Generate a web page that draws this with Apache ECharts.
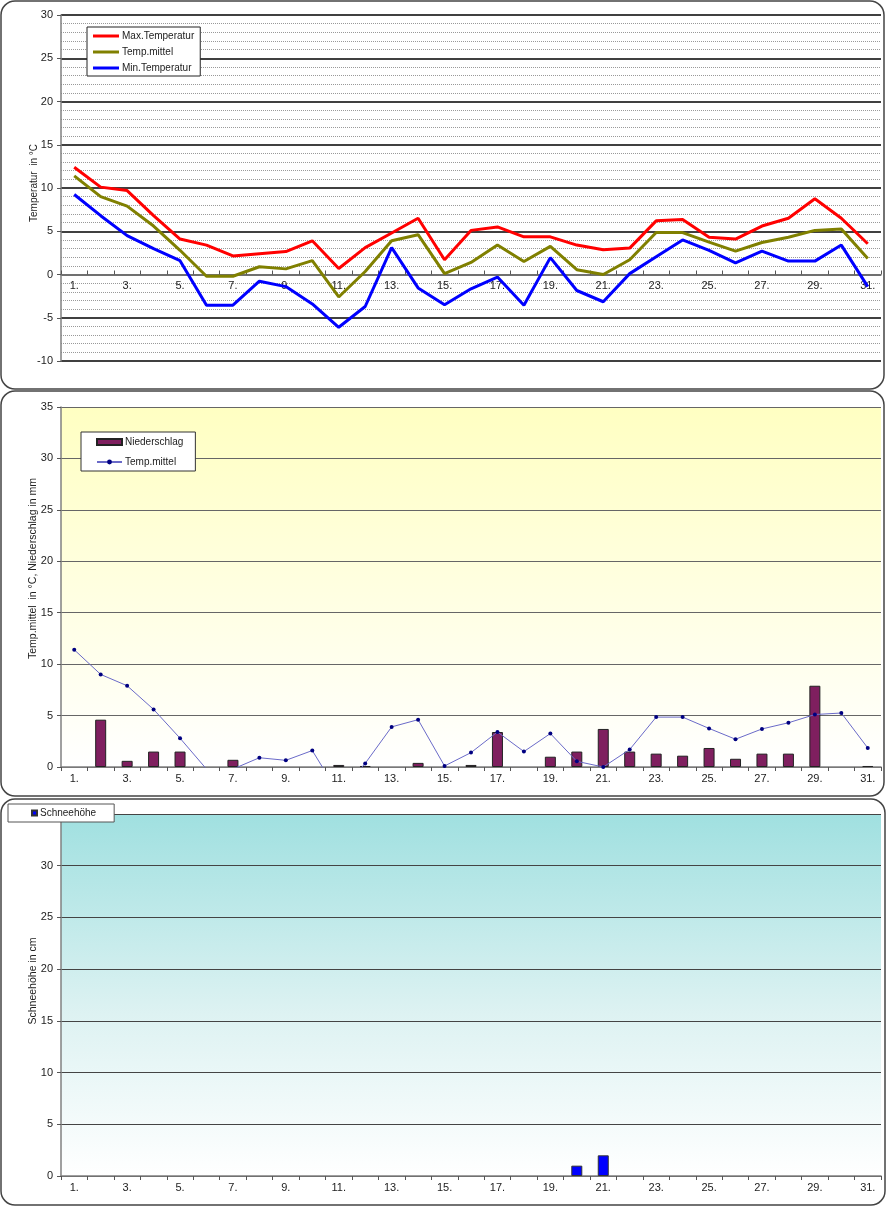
<!DOCTYPE html>
<html><head><meta charset="utf-8">
<script src="https://cdn.jsdelivr.net/npm/echarts@6/dist/echarts.min.js"></script>
<style>html,body{margin:0;padding:0;background:#fff}#c{width:887px;height:1207px}</style>
</head><body><div id="c"></div>
<script>
const days = ['1.','2.','3.','4.','5.','6.','7.','8.','9.','10.','11.','12.','13.','14.','15.','16.','17.','18.','19.','20.','21.','22.','23.','24.','25.','26.','27.','28.','29.','30.','31.'];
const tempMax = [12.4, 10.1, 9.7, 6.8, 4.1, 3.4, 2.15, 2.4, 2.65, 3.9, 0.7, 3.1, 4.8, 6.5, 1.7, 5.1, 5.5, 4.35, 4.35, 3.4, 2.85, 3.05, 6.2, 6.35, 4.3, 4.1, 5.6, 6.5, 8.75, 6.5, 3.55];
const tempMittel = [11.4, 9.0, 7.9, 5.6, 2.8, -0.2, -0.2, 0.9, 0.65, 1.6, -2.6, 0.35, 3.9, 4.6, 0.1, 1.4, 3.4, 1.5, 3.25, 0.55, 0.0, 1.7, 4.85, 4.85, 3.75, 2.7, 3.7, 4.3, 5.1, 5.25, 1.85];
const tempMin = [9.25, 6.8, 4.5, 3.0, 1.6, -3.55, -3.55, -0.77, -1.4, -3.4, -6.1, -3.7, 3.1, -1.55, -3.5, -1.65, -0.3, -3.55, 1.95, -1.85, -3.15, 0.1, 2.05, 4.0, 2.8, 1.35, 2.7, 1.55, 1.55, 3.4, -1.4];
// null = no precipitation / no snow on that day
const niederschlag = [null, 4.6, 0.6, 1.5, 1.5, null, 0.7, null, null, null, 0.2, 0.1, null, 0.4, null, 0.2, 3.4, null, 1.0, 1.5, 3.7, 1.5, 1.3, 1.1, 1.85, 0.8, 1.3, 1.3, 7.9, null, 0.1];
const schneehoehe = [null, null, null, null, null, null, null, null, null, null, null, null, null, null, null, null, null, null, null, 1, 2, null, null, null, null, null, null, null, null, null, null];

const FONT = "'Liberation Sans', Arial, sans-serif";
const chart = echarts.init(document.getElementById('c'));

function xAx(gi, tickInside){
  return {
    type:'category', gridIndex:gi, data:days, boundaryGap:true,
    axisLine:{onZero:true, lineStyle:{color:'#808080', width:1.5}},
    axisTick:{show:true, interval:0, inside:tickInside, length:4, lineStyle:{color:'#555'}},
    axisLabel:{interval:1, fontSize:11, fontFamily:FONT, color:'#222', margin:6},
    splitLine:{show:false}
  };
}
function yAx(gi, min, max, name, shift, nameSize, splitColor, splitWidth){
  return {
    type:'value', gridIndex:gi, min:min, max:max, interval:5,
    name:name, nameLocation:'middle', nameGap:22, nameMoveOverlap:false,
    nameTextStyle:{fontSize:nameSize, fontFamily:FONT, color:'#222', padding:[0,0,0,shift]},
    axisLine:{show:true, lineStyle:{color:'#808080', width:1.5}},
    axisTick:{show:true, length:4, lineStyle:{color:'#555'}},
    axisLabel:{fontSize:11, fontFamily:FONT, color:'#222', margin:8},
    splitLine:{show:true, lineStyle:{color:splitColor, width:splitWidth}}
  };
}

const xTop = xAx(0, true);
xTop.axisLine.onZero = false;
xTop.offset = -86.5;

const yTop = yAx(0, -10, 30, 'Temperatur  in °C', 10, 10, '#000', 1.5);
yTop.minorTick = {show:false, splitNumber:5};
yTop.minorSplitLine = {show:true, lineStyle:{color:'#999', type:'dotted', width:1}};

const legText = {fontSize:10, fontFamily:FONT, color:'#222', padding:[0,0,0,-2]};

const option = {
  animation:false,
  textStyle:{fontFamily:FONT},
  graphic:[
    {type:'rect', shape:{x:1, y:1, width:883, height:388, r:14}, style:{fill:'none', stroke:'#444', lineWidth:1.5}},
    {type:'rect', shape:{x:1, y:391, width:883, height:405, r:14}, style:{fill:'none', stroke:'#444', lineWidth:1.5}},
    {type:'rect', shape:{x:1, y:799, width:884, height:406, r:14}, style:{fill:'none', stroke:'#444', lineWidth:1.5}}
  ],
  grid:[
    {left:61, top:15, width:820, height:346, containLabel:false},
    {left:61, top:407, width:820, height:360, show:true, borderWidth:0,
      backgroundColor:{type:'linear', x:0, y:0, x2:0, y2:1, colorStops:[{offset:0, color:'#FFFFC2'},{offset:1, color:'#FFFFFF'}]}},
    {left:61, top:814, width:820, height:362, show:true, borderWidth:0,
      backgroundColor:{type:'linear', x:0, y:0, x2:0, y2:1, colorStops:[{offset:0, color:'#A0E0E0'},{offset:0.55, color:'#DDF2F2'},{offset:1, color:'#FFFFFF'}]}}
  ],
  xAxis:[xTop, xAx(1, false), xAx(2, false)],
  yAxis:[
    yTop,
    yAx(1, 0, 35, 'Temp.mittel  in °C, Niederschlag in mm', 37, 10.5, '#666', 1),
    yAx(2, 0, 35, 'Schneehöhe in cm', 28, 10.5, '#444', 1)
  ],
  legend:[
    {data:[{name:'Max.Temperatur', icon:'rect'},{name:'Temp.mittel', icon:'rect'},{name:'Min.Temperatur', icon:'rect'}],
      orient:'vertical', left:87, top:27,
      backgroundColor:'#fff', borderColor:'#222', borderWidth:1, padding:[4,6,3,6],
      itemWidth:26, itemHeight:3, itemGap:6, textStyle:legText},
    {data:[{name:'Niederschlag', icon:'rect'}, 'Temp.mittel '], orient:'vertical', left:81, top:432,
      backgroundColor:'#fff', borderColor:'#333', borderWidth:1, padding:[5,12,4,15],
      itemWidth:25, itemHeight:6, itemGap:10, textStyle:legText},
    {data:[{name:'Schneehöhe', icon:'rect'}], orient:'vertical', left:8, top:804,
      backgroundColor:'#fff', borderColor:'#555', borderWidth:1, padding:[4,18,4,23],
      itemWidth:5, itemHeight:5, itemGap:0, textStyle:legText}
  ],
  series:[
    {name:'Max.Temperatur', type:'line', xAxisIndex:0, yAxisIndex:0, data:tempMax, symbol:'none',
      lineStyle:{color:'#FF0000', width:3}, itemStyle:{color:'#FF0000'}, z:4},
    {name:'Temp.mittel', type:'line', xAxisIndex:0, yAxisIndex:0, data:tempMittel, symbol:'none',
      lineStyle:{color:'#808000', width:3}, itemStyle:{color:'#808000'}, z:3},
    {name:'Min.Temperatur', type:'line', xAxisIndex:0, yAxisIndex:0, data:tempMin, symbol:'none',
      lineStyle:{color:'#0000FF', width:3}, itemStyle:{color:'#0000FF'}, z:2},
    {name:'Niederschlag', type:'bar', xAxisIndex:1, yAxisIndex:1, data:niederschlag, barWidth:11,
      itemStyle:{color:'#7F1F5F', borderColor:'#222', borderWidth:1}},
    {name:'Temp.mittel ', type:'line', xAxisIndex:1, yAxisIndex:1, data:tempMittel, symbol:'circle', symbolSize:4,
      lineStyle:{color:'#6A6AC8', width:1}, itemStyle:{color:'#000080'}, z:5},
    {name:'Schneehöhe', type:'bar', xAxisIndex:2, yAxisIndex:2, data:schneehoehe, barWidth:11,
      itemStyle:{color:'#0000FF', borderColor:'#333', borderWidth:1}}
  ]
};
chart.setOption(option);
</script>
</body></html>
